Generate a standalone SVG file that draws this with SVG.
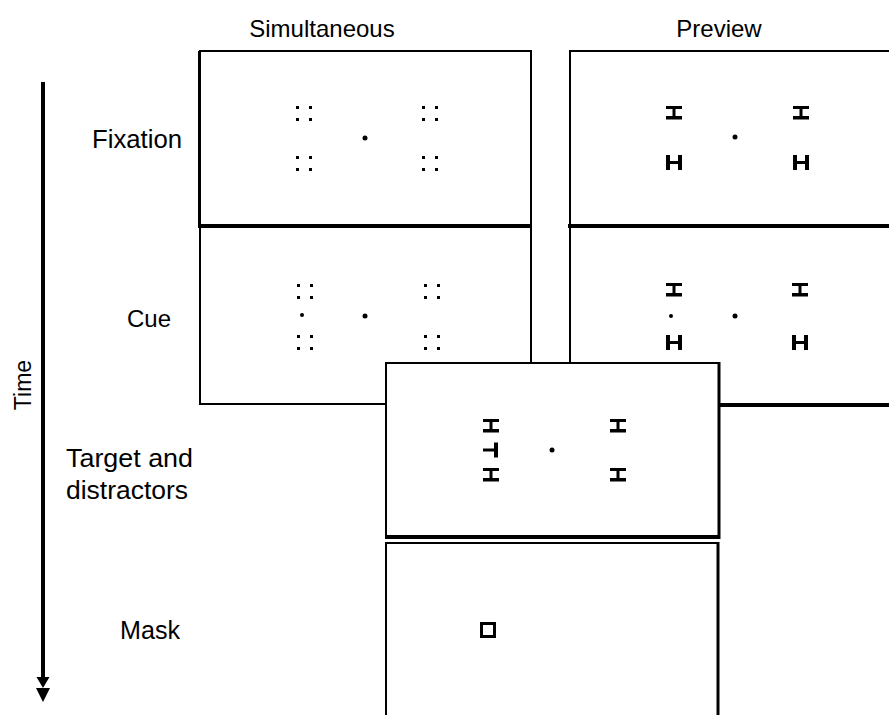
<svg xmlns="http://www.w3.org/2000/svg" width="889" height="715" viewBox="0 0 889 715">
<style>
.lbl{font-family:"Liberation Sans",Arial,sans-serif;font-size:25px;fill:#000}
.hd{font-family:"Liberation Sans",Arial,sans-serif;font-size:24px;fill:#000;text-anchor:middle}
.box{fill:#fff;stroke:#000}
</style>
<defs>
<g id="cl">
<rect x="-1" y="-1" width="3" height="3"/><rect x="12" y="-1" width="3" height="3"/>
<rect x="-1" y="11" width="3" height="3"/><rect x="12" y="11" width="3" height="3"/>
</g>
<path id="I" d="M0 0h16v3h-6.5v7h6.5v3.5h-16v-3.5h6.5v-7h-6.5z"/>
<path id="H" d="M0 0h4v6h8v-6h4v15h-4v-6h-8v6h-4z"/>
</defs>
<rect width="889" height="715" fill="#fff"/>
<g id="labels">
<text class="hd" x="322" y="37">Simultaneous</text>
<text class="hd" x="719" y="37">Preview</text>
<text class="lbl" x="92" y="148" textLength="90" lengthAdjust="spacingAndGlyphs">Fixation</text>
<text class="lbl" x="171" y="327" text-anchor="end" style="font-size:24px">Cue</text>
<text class="lbl" x="66" y="467" textLength="127" lengthAdjust="spacingAndGlyphs">Target and</text>
<text class="lbl" x="66" y="499" textLength="122" lengthAdjust="spacingAndGlyphs">distractors</text>
<text class="lbl" x="120" y="639" textLength="60" lengthAdjust="spacingAndGlyphs">Mask</text>
<text class="hd" transform="translate(31,385) rotate(-90)" style="font-size:23px">Time</text>
</g>
<g id="connectors">
<line x1="43" y1="82" x2="43" y2="682" stroke="#000" stroke-width="4"/>
<path d="M36.5 677h13l-6.5 11z M36 688h14l-7 14z" fill="#000"/>
</g>
<g id="sim-fixation">
<path d="M200 226V51H531V226" fill="#fff" stroke="#000" stroke-width="2"/>
<line x1="199.5" y1="51" x2="199.5" y2="226" stroke="#000" stroke-width="3"/>
<line x1="198" y1="226" x2="532" y2="226" stroke="#000" stroke-width="4"/>
<use href="#cl" x="297" y="107"/><use href="#cl" x="423" y="107"/>
<use href="#cl" x="297" y="157"/><use href="#cl" x="423" y="157"/>
<circle cx="365" cy="138" r="2.5"/>
</g>
<g id="sim-cue">
<path d="M200 228V404H531V228" fill="#fff" stroke="#000" stroke-width="2"/>
<use href="#cl" x="298" y="285"/><use href="#cl" x="425" y="285"/>
<use href="#cl" x="298" y="336"/><use href="#cl" x="425" y="336"/>
<circle cx="302" cy="315" r="2"/>
<circle cx="365" cy="316" r="2.5"/>
</g>
<g id="prev-fixation">
<path d="M891 51H570V226H891" fill="#fff" stroke="#000" stroke-width="2"/>
<line x1="568" y1="226" x2="891" y2="226" stroke="#000" stroke-width="4"/>
<use href="#I" x="666" y="106"/><use href="#I" x="793" y="106"/>
<use href="#H" x="666" y="155"/><use href="#H" x="793" y="155"/>
<circle cx="735" cy="137" r="2.5"/>
</g>
<g id="prev-cue">
<path d="M570 228V405H891" fill="#fff" stroke="#000" stroke-width="2"/>
<line x1="719" y1="405" x2="891" y2="405" stroke="#000" stroke-width="4"/>
<use href="#I" x="666" y="283"/><use href="#I" x="792" y="283"/>
<use href="#H" x="666" y="335"/><use href="#H" x="792" y="335"/>
<circle cx="671" cy="316" r="2"/>
<circle cx="735" cy="316" r="2.5"/>
</g>
<g id="target">
<rect class="box" x="386" y="363" width="333" height="174" stroke-width="2"/>
<line x1="719" y1="362" x2="719" y2="539" stroke="#000" stroke-width="3"/>
<line x1="385" y1="537" x2="720" y2="537" stroke="#000" stroke-width="4"/>
<use href="#I" x="483" y="419"/><use href="#I" x="610" y="419"/>
<use href="#I" x="483" y="468"/><use href="#I" x="610" y="468"/>
<path d="M483 448.5h11v-6h4v15h-4v-6h-11z"/>
<circle cx="552" cy="450" r="2.5"/>
</g>
<g id="mask">
<path d="M386 716V543H718V716" fill="#fff" stroke="#000" stroke-width="2"/>
<line x1="718" y1="542" x2="718" y2="716" stroke="#000" stroke-width="3"/>
<rect x="481.5" y="623.5" width="13" height="13" fill="none" stroke="#000" stroke-width="3"/>
</g>
</svg>
